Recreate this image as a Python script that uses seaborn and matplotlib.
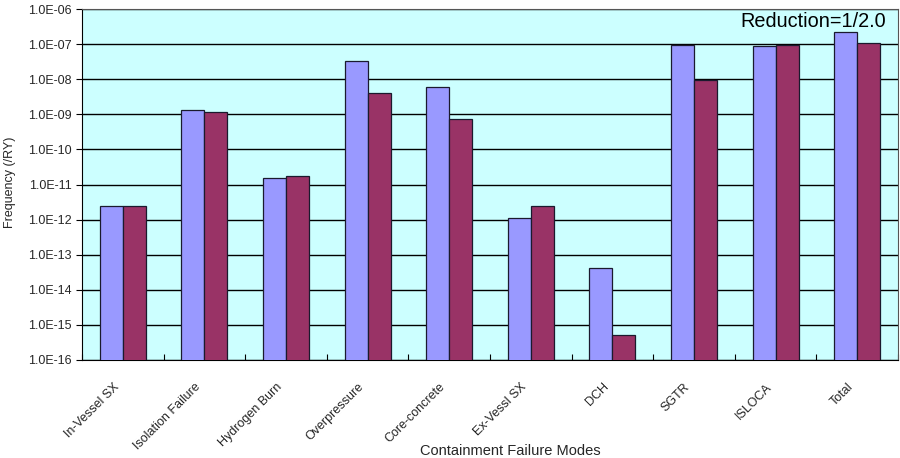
import numpy as np
import pandas as pd
import matplotlib
matplotlib.use("Agg")
import matplotlib.pyplot as plt
import matplotlib.transforms as mtransforms
import seaborn as sns
from matplotlib.ticker import FixedLocator, FixedFormatter, NullLocator

categories = ["In-Vessel SX", "Isolation Failure", "Hydrogen Burn", "Overpressure",
              "Core-concrete", "Ex-Vessl SX", "DCH", "SGTR", "ISLOCA", "Total"]
base_values = [2.4e-12, 1.3e-9, 1.5e-11, 3.4e-8, 6.1e-9, 1.1e-12, 4.2e-14, 9.4e-8, 8.9e-8, 2.26e-7]
reduced_values = [2.4e-12, 1.17e-9, 1.75e-11, 4.0e-9, 7.4e-10, 2.4e-12, 5.0e-16, 9.3e-9, 9.2e-8, 1.05e-7]
series_names = ["Base", "Reduction=1/2.0"]
ytick_exps = list(range(-16, -5))

sns.set_theme(style="white")
plt.rcParams['font.family'] = ['Liberation Sans', 'DejaVu Sans']

df = pd.DataFrame({
    "mode": categories * 2,
    "freq": base_values + reduced_values,
    "series": [series_names[0]] * len(categories) + [series_names[1]] * len(categories),
})

fig = plt.figure(figsize=(9, 4.58), dpi=100)
ax = fig.add_axes([82 / 900, 1 - 360 / 458, 816 / 900, 351 / 458])
ax.set_facecolor("#CCFFFF")

sns.barplot(data=df, x="mode", y="freq", hue="series", ax=ax,
            palette=["#9999FF", "#993366"], width=0.565, gap=0, saturation=1,
            edgecolor="#1a1a2e", linewidth=0.9,
            legend=False, zorder=3)
ax.set_yscale("log")

ax.set_ylim(1e-16, 1e-6)
ax.set_xlim(-0.5, len(categories) - 0.5)
ax.yaxis.set_major_locator(FixedLocator([10.0 ** e for e in ytick_exps]))
ax.yaxis.set_major_formatter(FixedFormatter(["1.0E-%02d" % (-e) for e in ytick_exps]))
ax.yaxis.set_minor_locator(NullLocator())
ax.grid(axis="y", color="black", linewidth=1.0, zorder=1)
ax.set_axisbelow(True)

ax.set_xticks(range(len(categories)))
ax.set_xticklabels(categories, rotation=45, ha="right", rotation_mode="anchor", fontsize=9)
ax.tick_params(axis="x", length=0, pad=15)
offset = mtransforms.ScaledTranslation(-10 / 100, 0, fig.dpi_scale_trans)
for lbl in ax.get_xticklabels():
    lbl.set_transform(lbl.get_transform() + offset)
ax.set_xticks(np.arange(-0.5, len(categories), 1.0), minor=True)
ax.tick_params(axis="x", which="minor", length=4, direction="in", color="black", width=0.8, bottom=True)
ax.tick_params(axis="y", labelsize=9, length=4, direction="out", color="black", width=0.8, left=True)

for s in ax.spines.values():
    s.set_color("#555555")
    s.set_linewidth(0.8)
ax.spines["left"].set_color("black")
ax.spines["bottom"].set_color("black")

ax.set_xlabel("")
ax.set_ylabel("")
fig.text(510 / 900, 1 - 444 / 458, "Containment Failure Modes", ha="center", va="top", fontsize=10.5)
fig.text(10 / 900, 1 - 182 / 458, "Frequency (/RY)", ha="center", va="center",
         rotation=90, fontsize=9)

ax.text(0.985, 0.992, "Reduction=1/2.0", transform=ax.transAxes, ha="right", va="top",
        fontsize=14.3, color="black", zorder=5)

fig.savefig("out.png", dpi=100)
